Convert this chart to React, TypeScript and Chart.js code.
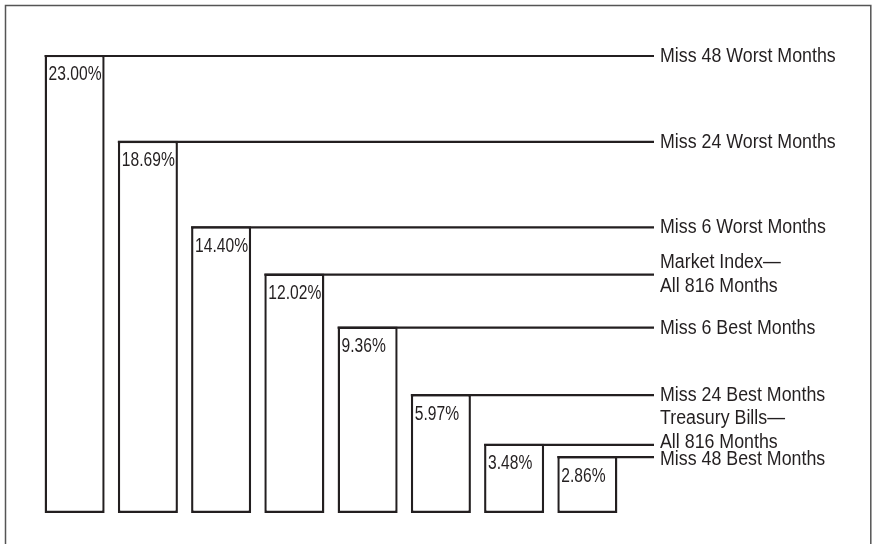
import React, { useEffect, useRef } from 'react';
import { Chart, registerables } from 'chart.js';

Chart.register(...registerables);

const categories: (string | string[])[] = [
  'Miss 48 Worst Months',
  'Miss 24 Worst Months',
  'Miss 6 Worst Months',
  ['Market Index—', 'All 816 Months'],
  'Miss 6 Best Months',
  'Miss 24 Best Months',
  ['Treasury Bills—', 'All 816 Months'],
  'Miss 48 Best Months',
];
const returns = [23.0, 18.69, 14.4, 12.02, 9.36, 5.97, 3.48, 2.86];
const valueLabels = ['23.00%', '18.69%', '14.40%', '12.02%', '9.36%', '5.97%', '3.48%', '2.86%'];
const yMin = 0;
const yMax = 24;

// layout only: vertical nudge (px) of each right-hand label relative to its leader line
const labelNudge = [0, 0, 0, 0, 0, 0, -14, 2];

const INK = '#231f20';
const FONT = "'Liberation Sans', Arial, sans-serif";
const VALUE_SX = 0.78;
const LABEL_SX = 0.89;

function drawScaled(ctx: CanvasRenderingContext2D, text: string, x: number, y: number, sx: number) {
  ctx.save();
  ctx.translate(x, y);
  ctx.scale(sx, 1);
  ctx.fillText(text, 0, 0);
  ctx.restore();
}

const annotate = {
  id: 'annotate',
  beforeDraw(chart: any) {
    const ctx = chart.ctx;
    ctx.save();
    ctx.fillStyle = '#ffffff';
    ctx.fillRect(0, 0, chart.width, chart.height);
    ctx.strokeStyle = '#555555';
    ctx.lineWidth = 1.5;
    ctx.beginPath();
    ctx.moveTo(5.5, chart.height);
    ctx.lineTo(5.5, 5.5);
    ctx.lineTo(chart.width - 1.2, 5.5);
    ctx.lineTo(chart.width - 1.2, chart.height);
    ctx.stroke();
    ctx.restore();
  },
  afterDatasetsDraw(chart: any) {
    const ctx = chart.ctx;
    const meta = chart.getDatasetMeta(0);
    const area = chart.chartArea;
    const lineEnd = area.right + 30;
    const textX = area.right + 36;
    ctx.save();
    meta.data.forEach((bar: any, i: number) => {
      const left = bar.x - bar.width / 2;
      const top = bar.y;
      ctx.strokeStyle = INK;
      ctx.lineWidth = 2.2;
      ctx.beginPath();
      ctx.moveTo(left, top + 1.1);
      ctx.lineTo(lineEnd, top + 1.1);
      ctx.stroke();

      ctx.fillStyle = INK;
      ctx.textAlign = 'left';
      ctx.textBaseline = 'alphabetic';
      ctx.font = `20px ${FONT}`;
      drawScaled(ctx, valueLabels[i], left + 4, top + 25.5, VALUE_SX);

      const cat = categories[i];
      const n = labelNudge[i];
      if (Array.isArray(cat)) {
        drawScaled(ctx, cat[0], textX, top - 6 + n, LABEL_SX);
        drawScaled(ctx, cat[1], textX, top + 18 + n, LABEL_SX);
      } else {
        drawScaled(ctx, cat, textX, top + 7 + n, LABEL_SX);
      }
    });
    ctx.restore();
  },
};

export default function App() {
  const ref = useRef<HTMLCanvasElement | null>(null);
  useEffect(() => {
    if (!ref.current) return;
    const chart = new Chart(ref.current, {
      type: 'bar',
      data: {
        labels: categories as any,
        datasets: [
          {
            data: returns,
            backgroundColor: '#ffffff',
            borderColor: INK,
            borderWidth: 2.4,
            borderSkipped: false,
            barPercentage: 0.82,
            categoryPercentage: 1,
          },
        ],
      },
      options: {
        responsive: false,
        animation: false,
        layout: { padding: { left: 38, right: 248, top: 35, bottom: 31 } },
        plugins: { legend: { display: false }, tooltip: { enabled: false } },
        scales: {
          x: { display: false },
          y: { display: false, min: yMin, max: yMax },
        },
      },
      plugins: [annotate],
    });
    return () => chart.destroy();
  }, []);
  return (
    <div style={{ position: 'absolute', left: 0, top: 0, width: 872, height: 544, background: '#fff' }}>
      <canvas ref={ref} width={872} height={544} />
    </div>
  );
}
